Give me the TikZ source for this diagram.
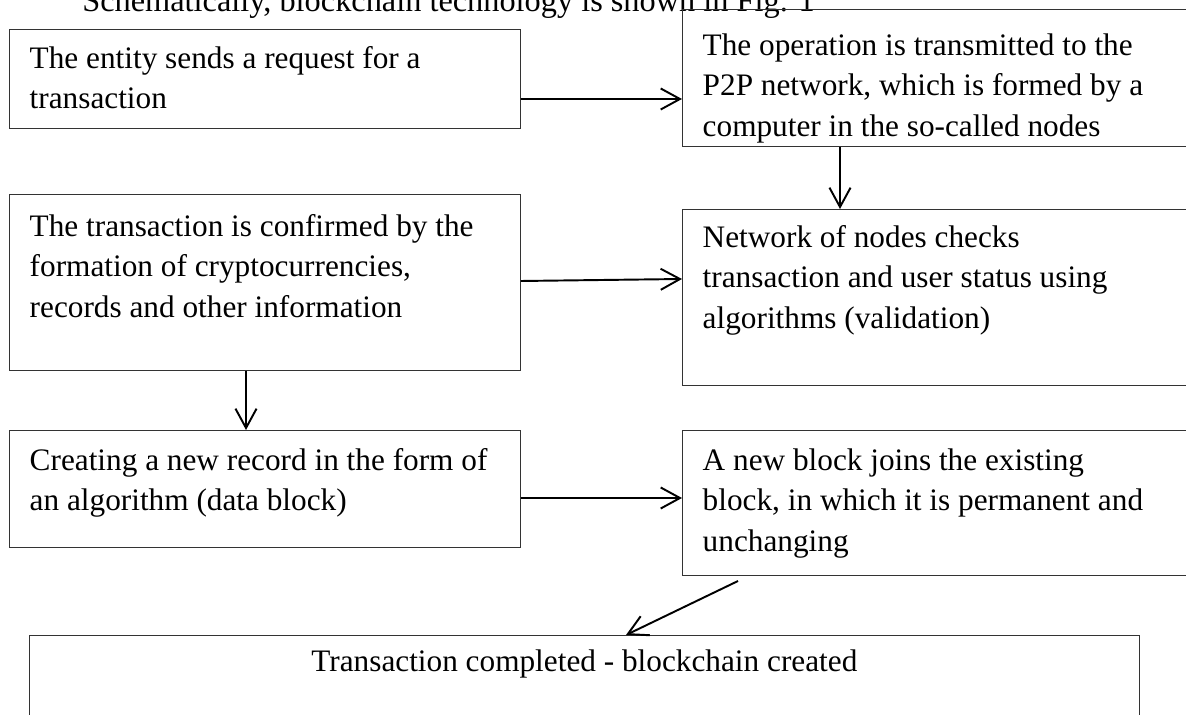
\documentclass[tikz,border=0pt]{standalone}
\usepackage{fontspec}
\setmainfont{Liberation Serif}
\usetikzlibrary{arrows.meta,calc}

\newcommand{\stagetext}[4]{\parbox[c][#2][t]{#1}{\raggedright\leftskip=11.5pt\rule{0pt}{#3}#4}}

\begin{document}
\begin{tikzpicture}[x=0.02cm,y=-0.02cm,
  font=\fontsize{17.8}{23}\selectfont,
  stage/.style={draw=black!80,line width=0.6pt,inner sep=0pt,anchor=north west},
  flow/.style={-{Straight Barb[length=11pt,width=12pt]},line width=1.1pt}]
\useasboundingbox (0,0) rectangle (1186,715);
\node[anchor=base west,inner sep=0pt,font=\fontsize{18.4}{23}\selectfont] (title) at (82,12) {Schematically, blockchain technology is shown in Fig. 1};
% stages of the scheme
\node[stage] (A) at (9,29) {\stagetext{290.8pt}{56.3pt}{22.2pt}{The entity sends a request for a\\transaction}};
\node[stage] (B) at (682,9) {\stagetext{295.9pt}{78pt}{26.2pt}{The operation is transmitted to the\\P2P network, which is formed by a\\computer in the so-called nodes}};
\node[stage] (C) at (9,194) {\stagetext{290.8pt}{100.1pt}{23.9pt}{The transaction is confirmed by the\\formation of cryptocurrencies,\\records and other information}};
\node[stage] (D) at (682,209) {\stagetext{295.9pt}{100.1pt}{21.6pt}{Network of nodes checks\\transaction and user status using\\algorithms (validation)}};
\node[stage] (E) at (9,430) {\stagetext{290.8pt}{66.6pt}{22.8pt}{Creating a new record in the form of\\an algorithm (data block)}};
\node[stage] (F) at (682,430) {\stagetext{295.9pt}{82.5pt}{22.8pt}{A new block joins the existing\\block, in which it is permanent and\\unchanging}};
\node[stage] (G) at (29,635) {\parbox[c][68.3pt][t]{631.6pt}{\centering\rule{0pt}{20.5pt}Transaction completed - blockchain created}};
% arrows
\draw[flow] ($(A.north east)+(0,70)$) coordinate (ab) -- (ab -| B.west);
\draw[flow] ($(B.south west)+(158,0)$) coordinate (bd) -- (bd |- D.north);
\draw[flow] ($(C.north east)+(0,87)$) -- ($(D.north west)+(0,70)$);
\draw[flow] ($(C.south west)+(237,0)$) coordinate (ce) -- (ce |- E.north);
\draw[flow] ($(E.north east)+(0,68)$) coordinate (ef) -- (ef -| F.west);
\draw[flow] ($(F.south west)+(56,5)$) -- ($(G.north west)+(597,0)$);
\end{tikzpicture}
\end{document}
